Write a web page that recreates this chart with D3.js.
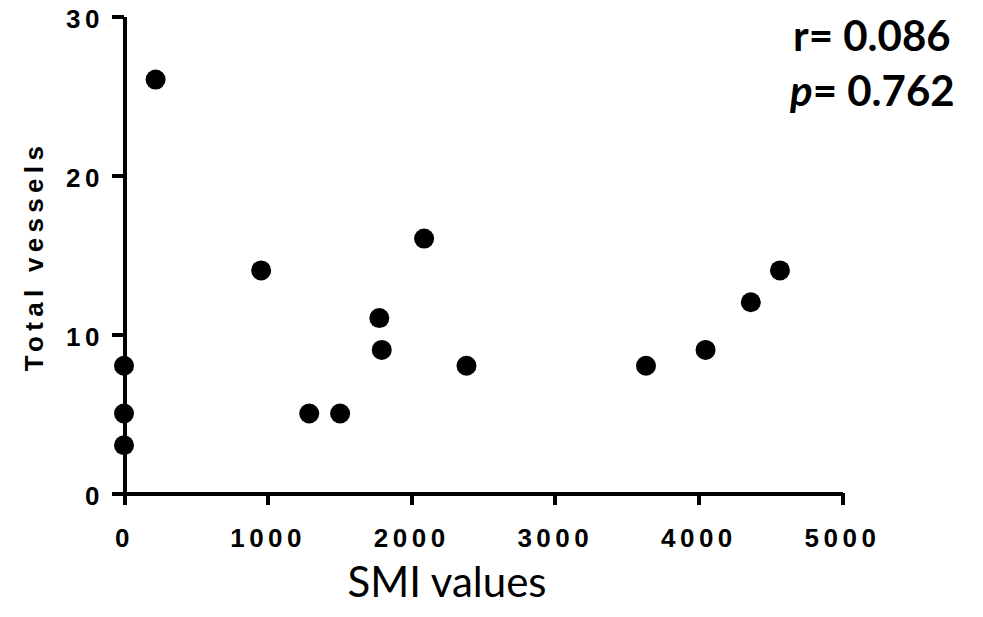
<!DOCTYPE html>
<html>
<head>
<meta charset="utf-8">
<script src="https://cdn.jsdelivr.net/npm/d3@7"></script>
<style>
  body { margin: 0; background: #fff; }
  .axis text { font-family: "Liberation Sans", Arial, sans-serif; font-weight: bold; font-size: 26px; letter-spacing: 4.5px; fill: #000; }
</style>
</head>
<body>
<script>
'use strict';

// SMI values (x) and total vessels (y)
let smiValues = [0, 0, 0, 220, 955, 1290, 1505, 1778, 1795, 2090, 2385, 3635, 4050, 4365, 4568];
let vesselCounts = [8, 5, 3, 26, 14, 5, 5, 11, 9, 16, 8, 8, 9, 12, 14];
let xTicks = [0, 1000, 2000, 3000, 4000, 5000];
let yTicks = [0, 10, 20, 30];
let statLines = ["r= 0.086", "= 0.762"];

let width = 983;
let height = 617;

let svg = d3.select('body')
  .append('svg')
  .attr('width', width)
  .attr('height', height);

let xScale = d3.scaleLinear().domain([0, 5000]).range([124, 842]);
let yScale = d3.scaleLinear().domain([0, 30]).range([493, 16]);

// x axis
svg.append('g')
  .attr('class', 'axis')
  .attr('transform', 'translate(0,' + yScale(0) + ')')
  .call(d3.axisBottom(xScale).tickValues(xTicks).tickFormat(d3.format('d'))
    .tickSize(12).tickSizeOuter(0).tickPadding(24));

// y axis, labels sit a little below their ticks like in the original
svg.append('g')
  .attr('class', 'axis')
  .attr('transform', 'translate(' + xScale(0) + ',0)')
  .call(d3.axisLeft(yScale).tickValues(yTicks).tickFormat(d3.format('d'))
    .tickSize(12).tickSizeOuter(0).tickPadding(8))
  .selectAll('text')
    .attr('dy', '0.46em');

svg.selectAll('.axis path, .axis line')
  .attr('stroke', '#000')
  .attr('stroke-width', 4)
  .attr('shape-rendering', 'crispEdges');

// points
svg.selectAll('circle.pt')
  .data(smiValues)
  .enter()
  .append('circle')
    .attr('class', 'pt')
    .attr('cx', (d) => xScale(d))
    .attr('cy', (d, i) => yScale(vesselCounts[i]))
    .attr('r', 10)
    .attr('fill', '#000');

// axis titles
svg.append('text')
  .attr('x', 447)
  .attr('y', 597)
  .style('text-anchor', 'middle')
  .style('font-family', 'Lato, "Open Sans", sans-serif')
  .style('font-size', '42px')
  .text('SMI values');

svg.append('text')
  .attr('transform', 'rotate(-90)')
  .attr('x', -256)
  .attr('y', 43)
  .style('text-anchor', 'middle')
  .style('font-family', '"Liberation Sans", Arial, sans-serif')
  .style('font-weight', 'bold')
  .style('font-size', '26px')
  .style('letter-spacing', '5.3px')
  .text('Total vessels');

// correlation stats
let stats = svg.append('g')
  .style('font-family', 'Lato, "Open Sans", sans-serif')
  .style('font-weight', 'bold')
  .style('font-size', '42px');

stats.append('text')
  .attr('x', 793)
  .attr('y', 51)
  .text(statLines[0]);

let pLine = stats.append('text')
  .attr('x', 790)
  .attr('y', 106);
pLine.append('tspan').style('font-style', 'italic').text('p');
pLine.append('tspan').text(statLines[1]);
</script>
</body>
</html>
